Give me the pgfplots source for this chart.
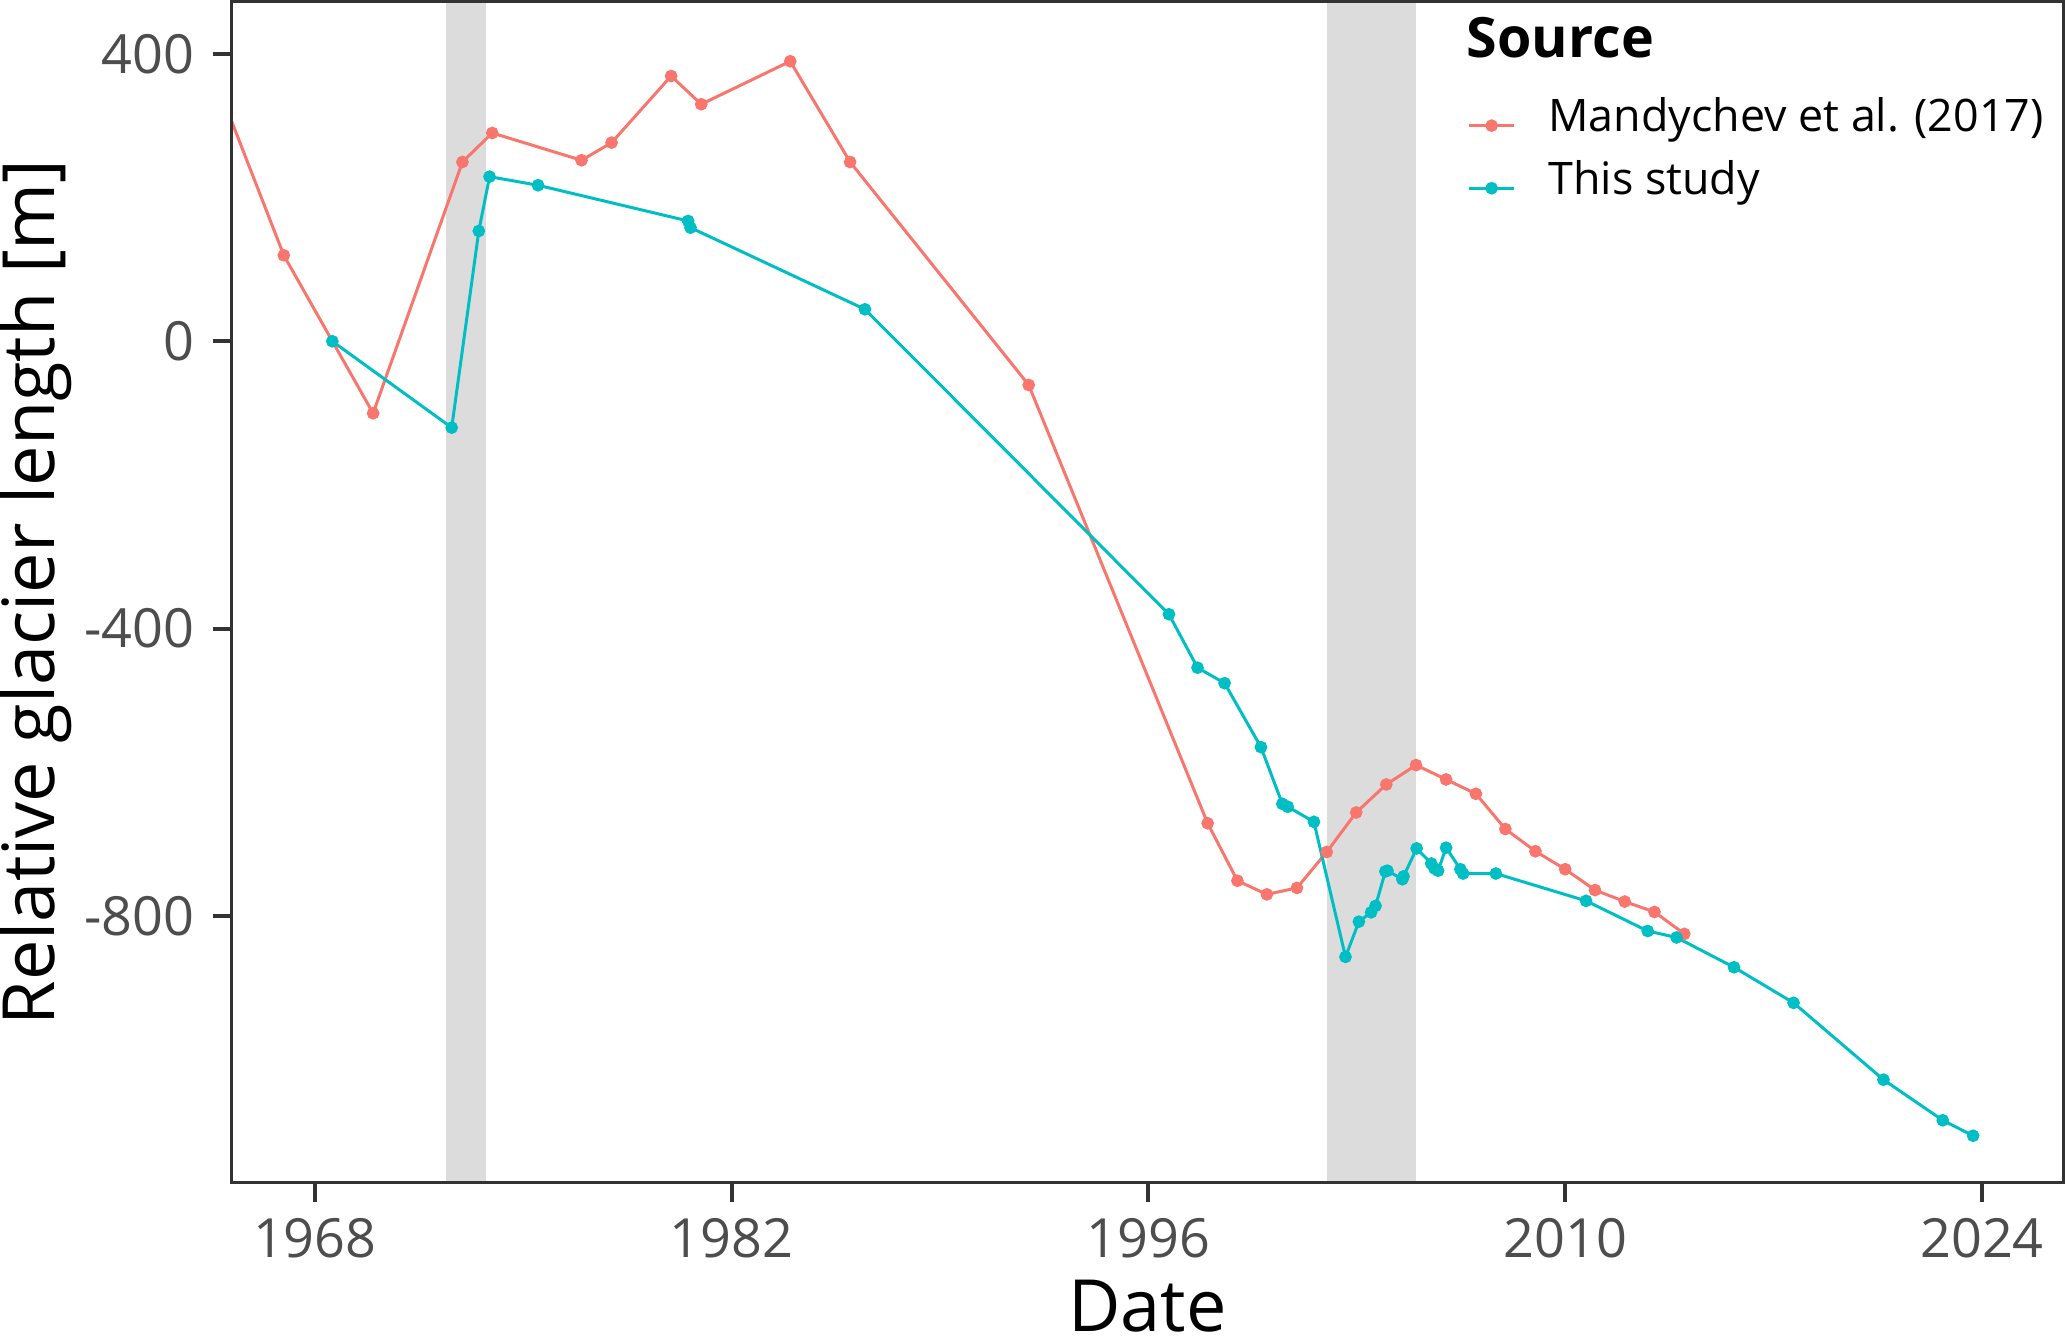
\documentclass[border=0pt]{standalone}
\usepackage{fontspec}
\setmainfont{Open Sans}
\usepackage{pgfplots}
\pgfplotsset{compat=1.18}
\definecolor{redS}{HTML}{F8766D}
\definecolor{cyanS}{HTML}{00BFC4}
\definecolor{band}{RGB}{220,220,220}
\definecolor{tickc}{HTML}{333333}
\definecolor{labc}{HTML}{4D4D4D}
\begin{document}
\begin{tikzpicture}
\begin{axis}[
  at={(0,0)}, anchor=south west,
  scale only axis, width=457.75bp, height=295.33bp,
  xmin=1965.22, xmax=2026.72, ymin=-1171.8, ymax=472.8,
  xtick={1968,1982,1996,2010,2024}, ytick={-800,-400,0,400},
  /pgf/number format/1000 sep={}, /pgf/number format/assume math mode=true,
  tick align=outside, major tick length=4.75bp,
  xtick pos=left, ytick pos=left,
  every tick/.style={tickc, line width=1bp},
  axis line style={tickc, line width=0.75bp},
  axis on top,
  ticklabel style={font=\fontsize{13.5bp}{16bp}\selectfont, text=labc, inner sep=0pt},
  xticklabel style={anchor=north, yshift=-4bp},
  yticklabel style={anchor=east, xshift=-4.5bp},
  xlabel={Date}, ylabel={Relative glacier length [m]},
  label style={font=\fontsize{18bp}{21bp}\selectfont, text=black, inner sep=0pt},
  xlabel style={at={(axis description cs:0.5,-0.1253)}, anchor=base},
  ylabel style={at={(axis description cs:-0.09667,0.5)}, rotate=0, anchor=base},
  legend style={at={(axis description cs:0.6744,0.9196)}, anchor=north west, draw=none, fill=none, inner sep=0pt, row sep=4.35bp, column sep=8.2bp, font=\fontsize{11.2bp}{13bp}\selectfont, nodes={inner sep=0pt, text height=8.5bp, text depth=2.8bp}},
  legend cell align=left,
  legend image code/.code={\draw[mark repeat=2, mark phase=2, yshift=-1.4bp] plot coordinates {(0bp,0bp)(5.625bp,0bp)(11.25bp,0bp)};},
]
\addplot[fill=band, draw=none, forget plot] coordinates {(1972.40,-2000) (1972.40,2000) (1973.74,2000) (1973.74,-2000)} -- cycle;
\addplot[fill=band, draw=none, forget plot] coordinates {(2002.0,-2000) (2002.0,2000) (2005.0,2000) (2005.0,-2000)} -- cycle;

\addplot[redS, line width=0.75bp, mark=*, mark size=1.2bp, mark options={solid, fill=redS, draw=redS}] coordinates {
(1964,435) (1966.96,119.7) (1969.96,-100.2) (1972.96,249.6) (1973.96,290) (1976.96,252) (1977.97,276.5) (1979.97,369.3) (1980.98,330) (1983.97,389.8) (1985.98,249.6) (1991.98,-60.8) (1997.99,-671) (1998.99,-751) (1999.98,-770) (2000.99,-761) (2001.99,-711) (2002.98,-656) (2003.99,-617) (2004.99,-590) (2006.0,-610) (2007.0,-630) (2007.99,-679) (2009.0,-710) (2010.0,-735) (2011.0,-764) (2012.0,-780) (2013.0,-794.5) (2014.0,-825)
};
\addlegendentry{Mandychev et al. (2017)}

\addplot[cyanS, line width=0.75bp, mark=*, mark size=1.2bp, mark options={solid, fill=cyanS, draw=cyanS}] coordinates {
(1968.59,0) (1972.60,-120.2) (1973.51,153.6) (1973.87,229.2) (1975.50,217.2) (1980.54,167.5) (1980.62,158.2) (1986.48,44.5) (1996.69,-380) (1997.65,-454.4) (1998.56,-476) (1999.78,-565) (2000.50,-644) (2000.68,-648) (2001.56,-669) (2002.62,-857) (2003.07,-808) (2003.48,-795) (2003.63,-786) (2003.96,-738) (2004.03,-737) (2004.53,-749) (2004.57,-745) (2005.01,-706) (2005.50,-727) (2005.61,-734) (2005.73,-737) (2006.0,-705) (2006.48,-735) (2006.57,-741) (2007.67,-741) (2010.70,-779) (2012.77,-821) (2013.74,-830) (2015.67,-871.5) (2017.67,-921) (2020.69,-1028) (2022.68,-1084.5) (2023.70,-1106)
};
\addlegendentry{This study}

\node[anchor=base west, inner sep=0pt, font=\fontsize{13.9bp}{16bp}\selectfont\bfseries] at (rel axis cs:0.6740,0.9529) {Source};
\end{axis}
\pgfresetboundingbox
\path (-58bp,-38.5bp) rectangle (458.75bp,295.75bp);
\end{tikzpicture}
\end{document}
